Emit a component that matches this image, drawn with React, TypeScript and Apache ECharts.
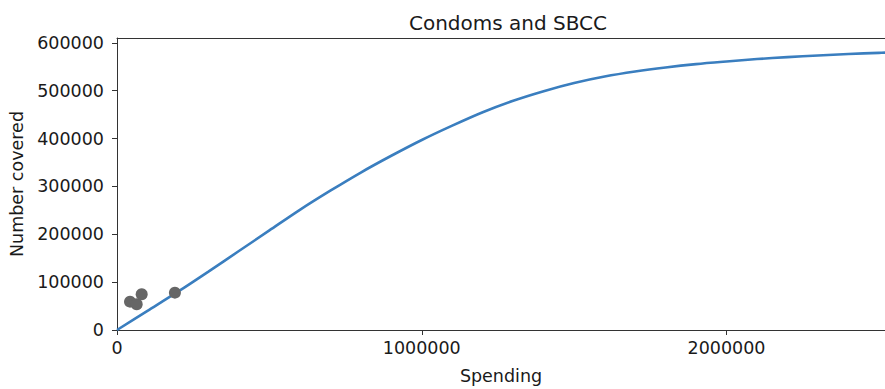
import React, { useEffect, useRef } from "react";
import * as echarts from "echarts";

const title = "Condoms and SBCC";
const xLabel = "Spending";
const yLabel = "Number covered";

// Fitted curve (spending -> number covered)
const curveSpending = [
  0, 100000, 200000, 300000, 400000, 500000, 600000, 700000, 800000, 900000,
  1000000, 1100000, 1200000, 1300000, 1400000, 1500000, 1600000, 1700000,
  1800000, 1900000, 2000000, 2100000, 2200000, 2300000, 2400000, 2500000, 2520000,
];
const curveCovered = [
  0, 40000, 80000, 122000, 165000, 208000, 251000, 291000, 329000, 364000,
  397000, 427000, 455000, 479000, 499000, 516000, 529500, 540000,
  548500, 555500, 561000, 566000, 570000, 573500, 576500, 579000, 579400,
];

// Observed points
const obsSpending = [42700, 64600, 81000, 190000];
const obsCovered = [59200, 53800, 74700, 78000];

const xTicks = [0, 1000000, 2000000];
const yTicks = [0, 100000, 200000, 300000, 400000, 500000, 600000];

export default function App() {
  const ref = useRef<HTMLDivElement>(null);
  useEffect(() => {
    if (!ref.current) return;
    const chart = echarts.init(ref.current, null, { renderer: "svg" });
    const font = "DejaVu Sans";
    const axisColor = "#333333";
    const textColor = "#1a1a1a";
    chart.setOption({
      animation: false,
      title: {
        text: title,
        left: 503,
        textAlign: "center",
        top: 8,
        textStyle: { fontFamily: font, fontSize: 20, fontWeight: "normal", color: textColor },
      },
      grid: {
        left: 117,
        right: 0,
        top: 38,
        bottom: 59,
        containLabel: false,
        outerBoundsMode: "none",
      },
      xAxis: [
        {
          type: "value",
          min: 0,
          max: 2520000,
          name: xLabel,
          nameLocation: "middle",
          nameGap: 37,
          nameTextStyle: { fontFamily: font, fontSize: 17.5, color: textColor },
          axisLine: { show: true, lineStyle: { color: axisColor, width: 1 } },
          axisTick: { show: true, length: 5, lineStyle: { color: axisColor }, customValues: xTicks },
          axisLabel: {
            fontFamily: font,
            fontSize: 17.5,
            color: textColor,
            margin: 9,
            customValues: xTicks,
            formatter: (v: number) => String(v),
          },
          splitLine: { show: false },
        },
        {
          type: "value",
          position: "top",
          min: 0,
          max: 2520000,
          axisLine: { show: true, lineStyle: { color: axisColor, width: 1 } },
          axisTick: { show: false },
          axisLabel: { show: false },
          splitLine: { show: false },
        },
      ],
      yAxis: {
        type: "value",
        min: 0,
        max: 610000,
        name: yLabel,
        nameLocation: "middle",
        nameGap: 91,
        nameTextStyle: { fontFamily: font, fontSize: 17.5, color: textColor },
        axisLine: { show: true, lineStyle: { color: axisColor, width: 1 } },
        axisTick: { show: true, length: 5, lineStyle: { color: axisColor }, customValues: yTicks },
        axisLabel: {
          fontFamily: font,
          fontSize: 17.5,
          color: textColor,
          margin: 13,
          customValues: yTicks,
          formatter: (v: number) => String(v),
        },
        splitLine: { show: false },
      },
      series: [
        {
          type: "line",
          data: curveSpending.map((x, i) => [x, curveCovered[i]]),
          smooth: 0.3,
          showSymbol: false,
          lineStyle: { color: "#3a7ebf", width: 2.6 },
          z: 2,
        },
        {
          type: "scatter",
          data: obsSpending.map((x, i) => [x, obsCovered[i]]),
          symbolSize: 12,
          itemStyle: { color: "#666666", opacity: 1 },
          z: 3,
        },
      ],
    });
    return () => chart.dispose();
  }, []);
  return <div ref={ref} style={{ width: 885, height: 389, position: "absolute", left: 0, top: 0 }} />;
}
